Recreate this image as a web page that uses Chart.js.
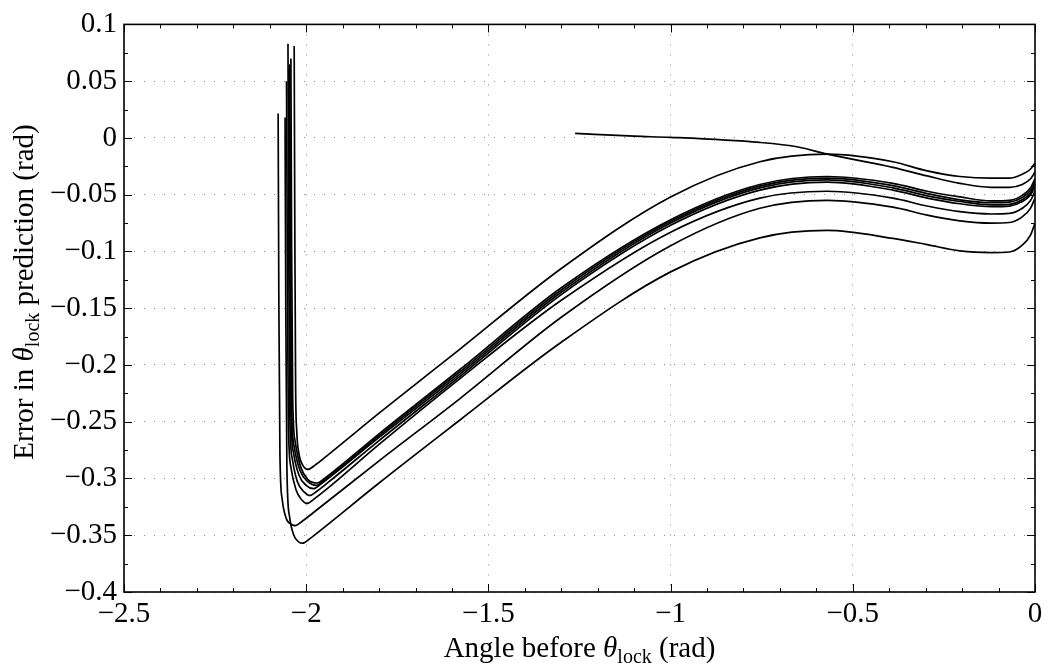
<!DOCTYPE html>
<html>
<head>
<meta charset="utf-8">
<script src="https://cdn.jsdelivr.net/npm/chart.js@4/dist/chart.umd.min.js"></script>
<style>
  html, body { margin: 0; padding: 0; background: #fff; }
  canvas { display: block; }
</style>
</head>
<body>
<canvas id="err-chart" width="1051" height="665"></canvas>
<script>
// x: angle before theta_lock (rad), y: error in prediction (rad)
const curve1 = [[-2.033,0.081],[-2.031,-0.10],[-2.029,-0.22],[-2.026,-0.258],[-2.02,-0.278],[-2.01,-0.288],[-1.995,-0.292],[-1.975,-0.288],[-1.945,-0.2805],[-1.8,-0.2425],[-1.578,-0.186],[-1.3,-0.115],[-1.0,-0.052],[-0.755,-0.021],[-0.57,-0.0143],[-0.39,-0.021],[-0.296,-0.029],[-0.206,-0.034],[-0.12,-0.0355],[-0.07,-0.0355],[-0.035,-0.032],[-0.012,-0.0274],[0,-0.022]];
const curve2 = [[-2.042,0.07],[-2.04,-0.10],[-2.037,-0.23],[-2.03,-0.268],[-2.015,-0.29],[-1.995,-0.301],[-1.97,-0.304],[-1.95,-0.300],[-1.92,-0.2925],[-1.8,-0.2607],[-1.578,-0.204],[-1.3,-0.132],[-1.0,-0.072],[-0.755,-0.041],[-0.57,-0.034],[-0.39,-0.040],[-0.296,-0.047],[-0.206,-0.052],[-0.12,-0.0555],[-0.07,-0.055],[-0.035,-0.0506],[-0.012,-0.0438],[0,-0.036]];
const curve3 = [[-2.045,0.065],[-2.043,-0.10],[-2.04,-0.235],[-2.033,-0.272],[-2.017,-0.293],[-1.995,-0.303],[-1.972,-0.306],[-1.952,-0.302],[-1.922,-0.2945],[-1.8,-0.2623],[-1.578,-0.206],[-1.3,-0.134],[-1.0,-0.0735],[-0.755,-0.0425],[-0.57,-0.0355],[-0.39,-0.042],[-0.296,-0.049],[-0.206,-0.0545],[-0.12,-0.057],[-0.07,-0.0565],[-0.035,-0.0525],[-0.012,-0.0462],[0,-0.039]];
const curve4 = [[-2.047,0.062],[-2.045,-0.10],[-2.042,-0.24],[-2.035,-0.277],[-2.02,-0.297],[-2.0,-0.306],[-1.98,-0.309],[-1.96,-0.305],[-1.93,-0.2975],[-1.8,-0.2638],[-1.578,-0.208],[-1.3,-0.136],[-1.0,-0.075],[-0.755,-0.044],[-0.57,-0.037],[-0.39,-0.044],[-0.296,-0.051],[-0.206,-0.056],[-0.12,-0.059],[-0.07,-0.0585],[-0.035,-0.0545],[-0.012,-0.0482],[0,-0.041]];
const curve5 = [[-2.05,0.083],[-2.048,-0.10],[-2.045,-0.245],[-2.038,-0.283],[-2.024,-0.303],[-2.005,-0.312],[-1.99,-0.315],[-1.97,-0.311],[-1.94,-0.3035],[-1.8,-0.2666],[-1.578,-0.21],[-1.3,-0.138],[-1.0,-0.077],[-0.755,-0.046],[-0.57,-0.039],[-0.39,-0.046],[-0.296,-0.053],[-0.206,-0.058],[-0.12,-0.0605],[-0.07,-0.060],[-0.035,-0.0561],[-0.012,-0.050],[0,-0.043]];
const curve6 = [[-2.054,0.05],[-2.052,-0.10],[-2.049,-0.25],[-2.042,-0.29],[-2.028,-0.31],[-2.012,-0.319],[-1.998,-0.322],[-1.978,-0.318],[-1.948,-0.3105],[-1.8,-0.270],[-1.578,-0.212],[-1.3,-0.143],[-1.0,-0.083],[-0.755,-0.053],[-0.57,-0.047],[-0.39,-0.053],[-0.296,-0.060],[-0.206,-0.065],[-0.12,-0.067],[-0.07,-0.0665],[-0.035,-0.062],[-0.012,-0.055],[0,-0.047]];
const curve7 = [[-2.077,0.0215],[-2.075,-0.15],[-2.072,-0.28],[-2.066,-0.318],[-2.055,-0.335],[-2.04,-0.3405],[-2.03,-0.3415],[-2.01,-0.3375],[-1.98,-0.330],[-1.8,-0.2845],[-1.578,-0.2296],[-1.3,-0.158],[-1.0,-0.095],[-0.755,-0.062],[-0.57,-0.055],[-0.39,-0.061],[-0.296,-0.068],[-0.206,-0.073],[-0.12,-0.075],[-0.07,-0.0745],[-0.035,-0.0695],[-0.012,-0.0618],[0,-0.053]];
const curve8 = [[-2.058,0.018],[-2.056,-0.15],[-2.053,-0.29],[-2.046,-0.333],[-2.034,-0.35],[-2.02,-0.356],[-2.01,-0.357],[-1.99,-0.353],[-1.96,-0.3455],[-1.8,-0.304],[-1.578,-0.2485],[-1.3,-0.18],[-1.0,-0.118],[-0.755,-0.088],[-0.57,-0.0815],[-0.39,-0.0885],[-0.296,-0.094],[-0.206,-0.0995],[-0.12,-0.101],[-0.07,-0.1005],[-0.035,-0.0945],[-0.012,-0.0854],[0,-0.075]];
const crossCurve = [[-1.262,0.004],[-1.1,0.0015],[-1.0,0.0005],[-0.755,-0.004],[-0.65,-0.008],[-0.57,-0.0143],[-0.39,-0.026],[-0.296,-0.0335],[-0.206,-0.040],[-0.12,-0.0435],[-0.07,-0.0435],[-0.035,-0.041],[-0.012,-0.036],[0,-0.030]];

const xTicks = [-2.5, -2, -1.5, -1, -0.5, 0];
const yTicks = [0.1, 0.05, 0, -0.05, -0.1, -0.15, -0.2, -0.25, -0.3, -0.35, -0.4];
const xTickLabels = ['\u22122.5', '\u22122', '\u22121.5', '\u22121', '\u22120.5', '0'];
const yTickLabels = ['0.1', '0.05', '0', '\u22120.05', '\u22120.1', '\u22120.15', '\u22120.2', '\u22120.25', '\u22120.3', '\u22120.35', '\u22120.4'];

const FONT = 'Liberation Serif';
const TICK_SIZE = 29, TITLE_SIZE = 29;
const PAD_L = 124, PAD_B = 73;

function labelFor(vals, labels, v) {
    const i = vals.findIndex(t => Math.abs(t - v) < 1e-9);
    return i < 0 ? '' : labels[i];
}

// inside ticks on all four sides + black frame
const frameTicks = {
    id: 'frameTicks',
    afterDatasetsDraw(chart) {
        const { ctx, chartArea: a, scales: { x, y } } = chart;
        ctx.save();
        ctx.strokeStyle = '#000';
        ctx.lineWidth = 1;
        ctx.beginPath();
        for (let i = 0; i <= 25; i++) {
            const px = Math.round(x.getPixelForValue(-2.5 + i * 0.1)) + 0.5;
            const len = i % 5 === 0 ? 8 : 4;
            ctx.moveTo(px, a.bottom); ctx.lineTo(px, a.bottom - len);
            ctx.moveTo(px, a.top); ctx.lineTo(px, a.top + len);
        }
        for (let i = 0; i <= 20; i++) {
            const py = Math.round(y.getPixelForValue(-0.4 + i * 0.025)) + 0.5;
            const len = i % 2 === 0 ? 8 : 4;
            ctx.moveTo(a.left, py); ctx.lineTo(a.left + len, py);
            ctx.moveTo(a.right, py); ctx.lineTo(a.right - len, py);
        }
        ctx.stroke();
        ctx.lineWidth = 1.6;
        ctx.strokeRect(a.left, a.top, a.right - a.left, a.bottom - a.top);
        ctx.restore();
    }
};

// axis titles with a subscript on theta
function drawParts(ctx, parts, cx, baseY) {
    let w = 0;
    parts.forEach(p => { ctx.font = p.font; w += ctx.measureText(p.t).width; });
    let px = cx - w / 2;
    parts.forEach(p => {
        ctx.font = p.font;
        ctx.fillText(p.t, px, baseY + (p.dy || 0));
        px += ctx.measureText(p.t).width;
    });
}
const axisTitles = {
    id: 'axisTitles',
    afterDraw(chart) {
        const { ctx, chartArea: a } = chart;
        const rm = TITLE_SIZE + 'px "' + FONT + '"';
        const it = 'italic ' + TITLE_SIZE + 'px "' + FONT + '"';
        const sub = Math.round(TITLE_SIZE * 0.68) + 'px "' + FONT + '"';
        ctx.save();
        ctx.fillStyle = '#000';
        ctx.textAlign = 'left';
        ctx.textBaseline = 'alphabetic';
        drawParts(ctx, [
            { t: 'Angle before ', font: rm }, { t: '\u03b8', font: it },
            { t: 'lock', font: sub, dy: 6 }, { t: ' (rad)', font: rm }
        ], (a.left + a.right) / 2, 657);
        ctx.translate(33, 292);
        ctx.rotate(-Math.PI / 2);
        drawParts(ctx, [
            { t: 'Error in ', font: rm }, { t: '\u03b8', font: it },
            { t: 'lock', font: sub, dy: 6 }, { t: ' prediction (rad)', font: rm }
        ], 0, 0);
        ctx.restore();
    }
};

const curves = [curve1, curve2, curve3, curve4, curve5, curve6, curve7, curve8, crossCurve];

new Chart(document.getElementById('err-chart'), {
    type: 'line',
    data: {
        datasets: curves.map(c => ({
            data: c,
            borderColor: '#000',
            borderWidth: 1.7,
            pointRadius: 0,
            fill: false,
            cubicInterpolationMode: 'monotone'
        }))
    },
    options: {
        responsive: false,
        animation: false,
        devicePixelRatio: 1,
        layout: { padding: { left: 0, right: 16, top: 19, bottom: 0 } },
        plugins: { legend: { display: false }, tooltip: { enabled: false } },
        scales: {
            x: {
                type: 'linear',
                min: -2.5, max: 0,
                afterFit: s => { s.height = PAD_B; },
                afterBuildTicks: s => { s.ticks = xTicks.map(v => ({ value: v })); },
                ticks: {
                    color: '#000', padding: 5, maxRotation: 0,
                    font: { family: FONT, size: TICK_SIZE },
                    callback: v => labelFor(xTicks, xTickLabels, v)
                },
                grid: { color: '#8a8a8a', lineWidth: 1, drawTicks: false },
                border: { display: false, dash: [1, 9] }
            },
            y: {
                type: 'linear',
                min: -0.4, max: 0.1,
                afterFit: s => { s.width = PAD_L; },
                afterBuildTicks: s => { s.ticks = yTicks.map(v => ({ value: v })); },
                ticks: {
                    color: '#000', padding: 7,
                    font: { family: FONT, size: TICK_SIZE },
                    callback: v => labelFor(yTicks, yTickLabels, v)
                },
                grid: { color: '#8a8a8a', lineWidth: 1, drawTicks: false },
                border: { display: false, dash: [1, 9] }
            }
        }
    },
    plugins: [frameTicks, axisTitles]
});
</script>
</body>
</html>
